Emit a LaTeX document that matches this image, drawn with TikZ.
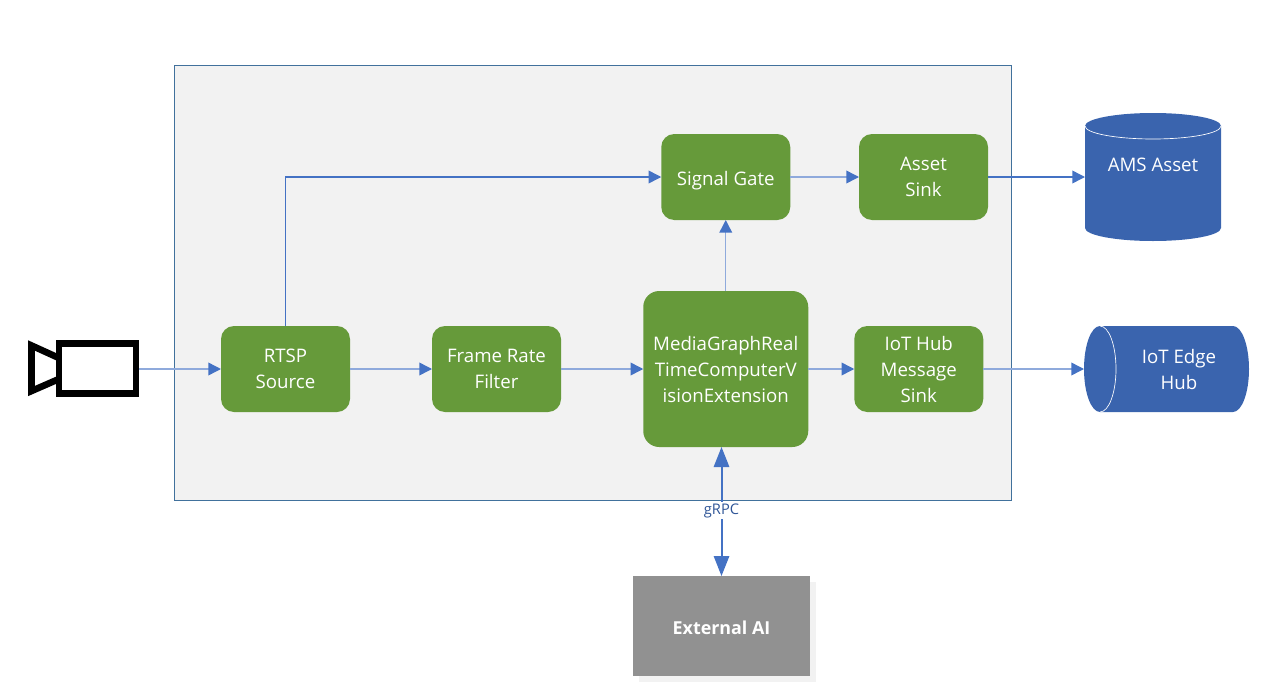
\documentclass[tikz,border=0pt]{standalone}
\usepackage{fontspec}
\setmainfont{Open Sans}
\usetikzlibrary{arrows.meta,shadows}

\definecolor{stepgreen}{HTML}{669A3A}
\definecolor{storeblue}{HTML}{3A64AE}
\definecolor{flowblue}{HTML}{4472C4}
\definecolor{flowlight}{HTML}{8FAADC}
\definecolor{grpcblue}{HTML}{2F5597}
\definecolor{panelgrey}{HTML}{F2F2F2}
\definecolor{panelline}{HTML}{41719C}
\definecolor{aigrey}{HTML}{919191}

\tikzset{
  stepbox/.style={rectangle,rounded corners=9.75pt,fill=stepgreen,text=white,align=center,
    minimum width=96.75pt,minimum height=64.5pt,inner sep=0pt,outer sep=0pt,
    font=\fontsize{14}{19.5}\selectfont},
  store/.style={rectangle,inner sep=0pt,outer sep=0pt},
  storetext/.style={text=white,align=center,inner sep=0pt,font=\fontsize{14}{19.5}\selectfont},
  flow/.style={draw=flowblue,line width=1.1pt,-{Triangle[length=9.5pt,width=9.5pt,color=flowblue]}},
  flowthin/.style={flow,draw=flowlight},
  camline/.style={draw=black,line width=5pt,miter limit=10},
}

\begin{document}
\begin{tikzpicture}[x=0.75pt,y=0.75pt,yscale=-1,xscale=1]
	\useasboundingbox (0,0) rectangle (1265,689);

	% Panel
	\node (panel) at (592.75,283.25) [rectangle,draw=panelline,fill=panelgrey,line width=0.75pt,
		minimum width=627.4pt,minimum height=326.25pt,inner sep=0pt,outer sep=0pt] {};

	% Camera
	\node (camera) at (97.5,368.5) [rectangle,camline,minimum width=57.75pt,minimum height=37.5pt,
		inner sep=0pt,outer sep=2.5pt] {};
	\draw [camline] (59,358) -- (31.5,345.5) -- (31.5,391) -- (59,379) ;

	% Steps
	\node (rtsp) at (285.5,369) [stepbox] {RTSP\\Source};
	\node (framerate) at (496.5,369) [stepbox] {Frame Rate\\Filter};
	\node (mediagraph) at (725.75,369) [stepbox,rounded corners=12pt,minimum width=123.75pt,minimum height=117pt] {MediaGraphReal\\TimeComputerV\\isionExtension};
	\node (hubsink) at (918.75,369) [stepbox] {IoT Hub\\Message\\Sink};
	\node (signalgate) at (725.75,177) [stepbox,text height=14pt,text depth=2pt] {Signal Gate};
	\node (assetsink) at (923.5,177) [stepbox] {Asset\\Sink};

	% Stores
	\node (amsasset) at (1153,177) [store,minimum width=102pt,minimum height=96pt] {};
	\fill [storeblue] (1085,126) arc [start angle=180,end angle=360,x radius=68,y radius=13] -- (1221,228)
		arc [start angle=0,end angle=180,x radius=68,y radius=13] -- cycle ;
	\draw [white,line width=0.5pt] (1085,126) arc [start angle=180,end angle=0,x radius=68,y radius=13] ;
	\node (amslabel) at (1153,165) [storetext] {AMS Asset};

	\node (edgehub) at (1166.5,369) [store,minimum width=123.75pt,minimum height=64.5pt] {};
	\fill [storeblue] (1100,326) arc [start angle=270,end angle=90,x radius=16,y radius=43] -- (1233,412)
		arc [start angle=90,end angle=-90,x radius=16,y radius=43] -- cycle ;
	\draw [white,line width=0.5pt] (1100,326) arc [start angle=-90,end angle=90,x radius=16,y radius=43] ;
	\node (edgelabel) at (1179,369) [storetext] {IoT Edge\\Hub};

	% External
	\node (external) at (721.5,626) [rectangle,fill=aigrey,text=white,minimum width=132.75pt,minimum height=75pt,
		inner sep=0pt,outer sep=0pt,text height=13pt,text depth=0pt,font=\fontsize{13.4}{14}\selectfont\bfseries,
		drop shadow={shadow xshift=4.5pt,shadow yshift=-4.5pt,fill=panelgrey,opacity=1}] {External AI};

	% Connection
	\draw [flowthin] (camera.east |- rtsp.west) -- (rtsp.west) ;
	\draw [flowthin] (rtsp.east) -- (framerate.west) ;
	\draw [flowthin] (framerate.east) -- (mediagraph.west) ;
	\draw [flowthin] (mediagraph.east) -- (hubsink.west) ;
	\draw [flowthin] (mediagraph.north) -- (signalgate.south) ;
	\draw [flow] (rtsp.north) |- (signalgate.west) ;
	\draw [flowthin] (signalgate.east) -- (assetsink.west) ;
	\draw [flow] (assetsink.east) -- (amsasset.west) ;
	\draw [flowthin] (hubsink.east) -- (edgehub.west) ;
	\draw [draw=flowblue,line width=1.5pt,{Triangle[length=15pt,width=11.5pt]}-{Triangle[length=15pt,width=11.5pt]}] (external.north |- mediagraph.south) -- (external.north)
		node [pos=0.495,fill=white,text=grpcblue,inner sep=1pt,font=\fontsize{11}{12}\selectfont] (grpc) {gRPC} ;
\end{tikzpicture}
\end{document}
